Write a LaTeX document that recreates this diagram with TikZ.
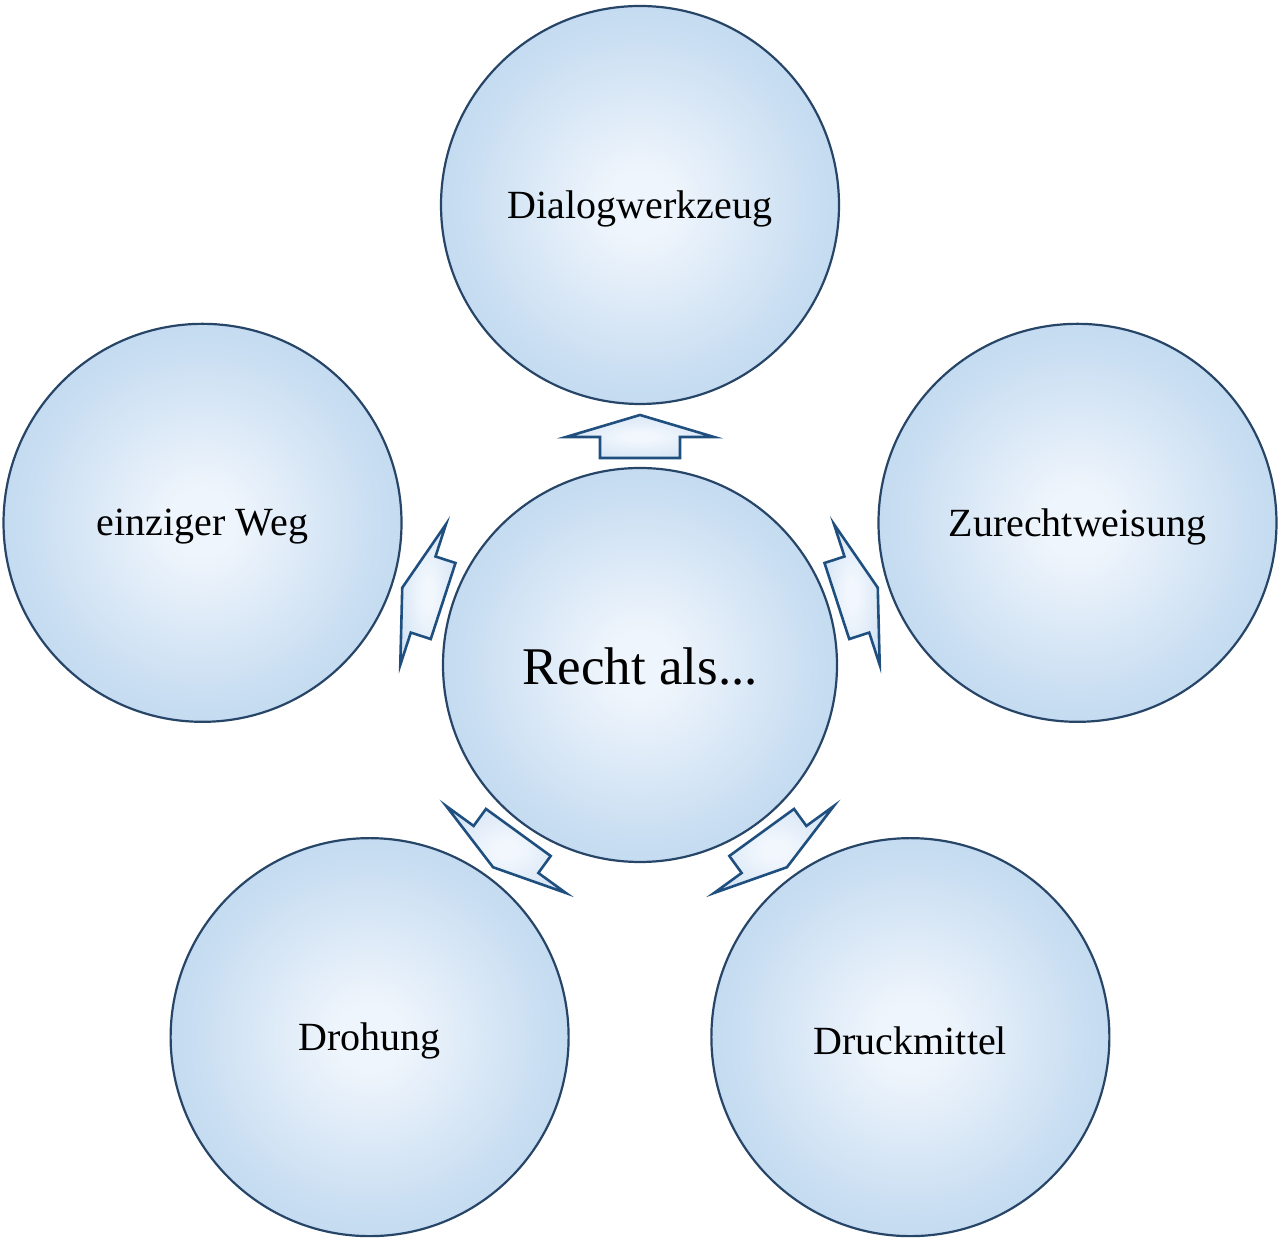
\documentclass[tikz,border=0pt]{standalone}
\usepackage{fontspec}
\setmainfont{Liberation Serif}
\usetikzlibrary{calc}
\definecolor{bcin}{HTML}{EFF5FC}
\definecolor{bclt}{HTML}{C9DEF2}
\definecolor{bcmid}{HTML}{B7D2EC}
\definecolor{bcdeep}{HTML}{B1CEEA}
\definecolor{bcedge}{HTML}{C3DAF0}
\definecolor{bline}{HTML}{274667}
\definecolor{aline}{HTML}{1F4F7F}
\definecolor{ain}{HTML}{F2F7FD}
\definecolor{aout}{HTML}{B9D3ED}
\pgfdeclareradialshading{bubblesh}{\pgfpoint{0bp}{0bp}}{color(0bp)=(bcin); color(4bp)=(bcin); color(22bp)=(bclt); color(34bp)=(bcmid); color(46bp)=(bcdeep); color(50bp)=(bcedge)}
\pgfdeclareradialshading{arrowsh}{\pgfpoint{0bp}{0bp}}{color(0bp)=(ain); color(5bp)=(ain); color(50bp)=(aout)}
\tikzset{
  bubble/.style={circle, draw=bline, line width=2.2pt, shading=bubblesh, shade,
    minimum size=398pt, inner sep=0pt, font=\fontsize{40}{48}\selectfont},
  centerbubble/.style={bubble, minimum size=394pt, font=\fontsize{53}{62}\selectfont},
  blockarrow/.style={draw=aline, line width=2.6pt, line join=miter, shading=arrowsh, shade}
}
\newcommand{\blockarr}[1]{%
  \begin{scope}[shift={(c.center)}, rotate=#1]
    \path[blockarrow] (250,0) -- (228,74) -- (228,40) -- (207,40) -- (207,-40) -- (228,-40) -- (228,-74) -- cycle;
  \end{scope}}
\newcommand{\lowtext}[1]{\raisebox{-4pt}[\height][\depth]{#1}}
\begin{document}
\begin{tikzpicture}[x=1pt,y=1pt]
\useasboundingbox (0,0) rectangle (1278,1239);
\node[centerbubble] (c) at (640,574) {\raisebox{-1pt}[\height][\depth]{Recht als...}};
\path (c.center) ++(90:460) node[bubble] (top) {\lowtext{Dialogwerkzeug}};
\path (c.center) ++(18:460) node[bubble] (right) {\lowtext{Zurechtweisung}};
\path (c.center) ++(162:460) node[bubble] (left) {\lowtext{einziger Weg}};
\path (c.center) ++(-54:460) node[bubble] (br) {\lowtext{Druckmittel}};
\path (c.center) ++(-126:460) node[bubble] (bl) {\lowtext{Drohung}};
\blockarr{90}
\blockarr{18}
\blockarr{162}
\blockarr{-54}
\blockarr{-126}
\end{tikzpicture}
\end{document}
